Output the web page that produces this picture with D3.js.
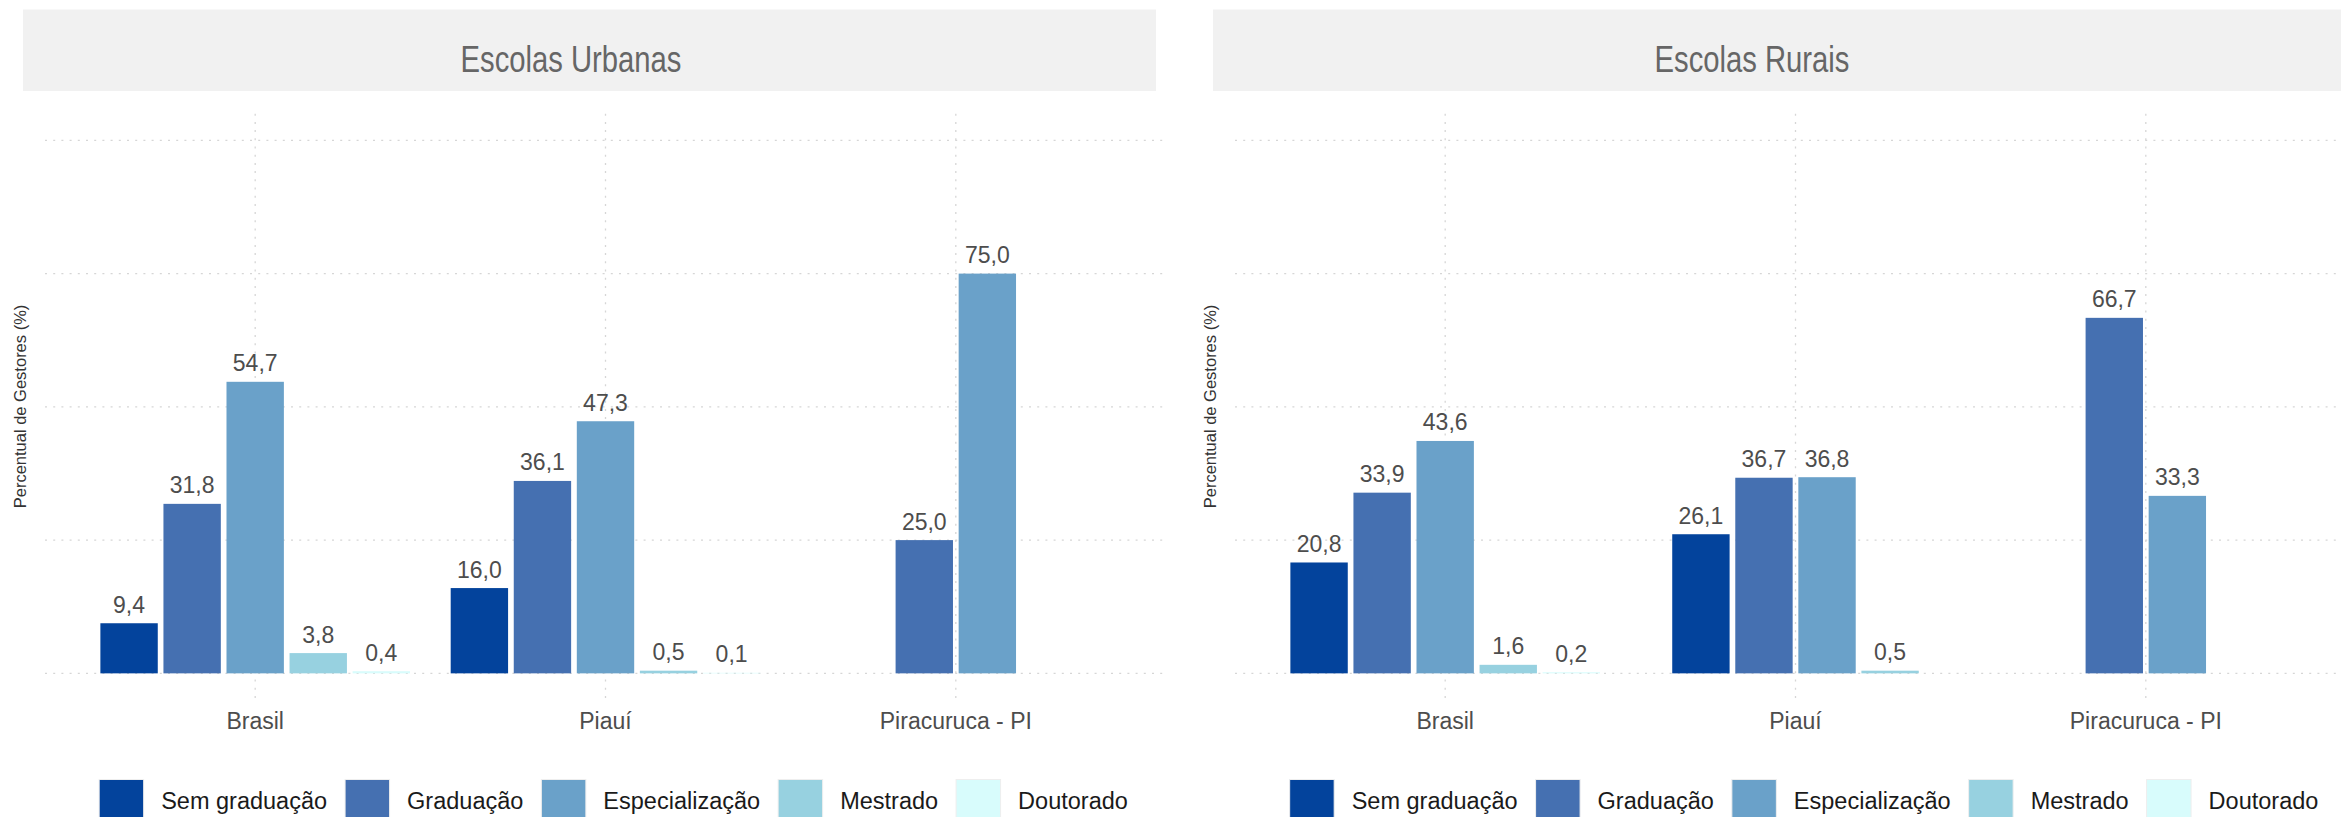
<!DOCTYPE html>
<html>
<head>
<meta charset="utf-8">
<script src="https://cdn.jsdelivr.net/npm/d3@7"></script>
<style>
  html, body { margin: 0; padding: 0; background: #ffffff; }
  svg { display: block; }
</style>
</head>
<body>
<svg id="chart" width="2341" height="817"></svg>
<script>
// ---------------- DATA ----------------
const categories = ["Brasil", "Piauí", "Piracuruca - PI"];
const levels = ["Sem graduação", "Graduação", "Especialização", "Mestrado", "Doutorado"];
const levelColors = ["#03439c", "#4570b1", "#6aa1c9", "#97d1e0", "#d8fcfc"];
const panelTitles = ["Escolas Urbanas", "Escolas Rurais"];
const yTicks = [0, 25, 50, 75, 100];
const yTitle = "Percentual de Gestores (%)";

// Escolas Urbanas (values per category: Brasil, Piauí, Piracuruca - PI)
const urbSemGraduacao   = [9.4, 16.0, null];
const urbGraduacao      = [31.8, 36.1, 25.0];
const urbEspecializacao = [54.7, 47.3, 75.0];
const urbMestrado       = [3.8, 0.5, null];
const urbDoutorado      = [0.4, 0.1, null];

// Escolas Rurais
const rurSemGraduacao   = [20.8, 26.1, null];
const rurGraduacao      = [33.9, 36.7, 66.7];
const rurEspecializacao = [43.6, 36.8, 33.3];
const rurMestrado       = [1.6, 0.5, null];
const rurDoutorado      = [0.2, null, null];

const panelSeries = [
  [urbSemGraduacao, urbGraduacao, urbEspecializacao, urbMestrado, urbDoutorado],
  [rurSemGraduacao, rurGraduacao, rurEspecializacao, rurMestrado, rurDoutorado]
];

// ---------------- LAYOUT ----------------
const svg = d3.select("#chart");
const FONT = "'Liberation Sans', Arial, Helvetica, sans-serif";

const panels = [
  { x0: 45,   x1: 1166, stripX0: 23,   stripX1: 1156, titleX: 571,  legendCx: 613.5 },
  { x0: 1235, x1: 2356, stripX0: 1213, stripX1: 2400, titleX: 1752, legendCx: 1804 }
];

const y = d3.scaleLinear().domain([-5, 105]).range([700, 113.7]);
const fmt = v => v.toFixed(1).replace(".", ",");

panels.forEach((p, pi) => {
  const g = svg.append("g");

  // strip
  g.append("rect")
    .attr("x", p.stripX0).attr("y", 9.5)
    .attr("width", p.stripX1 - p.stripX0).attr("height", 81.5)
    .attr("fill", "#f1f1f1");

  const t = g.append("text")
    .attr("x", p.titleX).attr("y", 72)
    .attr("text-anchor", "middle")
    .attr("font-family", FONT)
    .attr("font-size", 37)
    .attr("fill", "#666666")
    .text(panelTitles[pi]);
  const natural = t.node().getComputedTextLength();
  t.attr("textLength", natural * 0.79).attr("lengthAdjust", "spacingAndGlyphs");

  // x scale
  const x = d3.scaleBand().domain(categories).range([p.x0, p.x1])
    .paddingInner(0).paddingOuter(0.1);
  const slot = x.bandwidth() * 0.18;
  const barW = slot * 0.91;

  // gridlines
  const grid = g.append("g").attr("stroke", "#d6d6d6").attr("stroke-width", 1.3)
    .attr("stroke-dasharray", "2,6.2");
  grid.selectAll("line.h").data(yTicks).join("line")
    .attr("class", "h")
    .attr("x1", p.x0).attr("x2", p.x1)
    .attr("y1", d => y(d)).attr("y2", d => y(d));
  grid.selectAll("line.v").data(categories).join("line")
    .attr("class", "v")
    .attr("x1", d => x(d) + x.bandwidth() / 2).attr("x2", d => x(d) + x.bandwidth() / 2)
    .attr("y1", y(105)).attr("y2", y(-5));

  // bars (dodge, preserve single: present bars centered)
  const series = panelSeries[pi];
  const bars = [];
  categories.forEach((c, ci) => {
    const present = levels.map((l, li) => ({ level: l, li, v: series[li][ci] }))
      .filter(d => d.v !== null && d.v !== undefined);
    const cx = x(c) + x.bandwidth() / 2;
    const start = cx - present.length * slot / 2;
    present.forEach((d, k) => {
      bars.push({ cat: c, level: d.level, li: d.li, v: d.v, cx: start + slot * (k + 0.5) });
    });
  });

  g.selectAll("rect.bar").data(bars).join("rect")
    .attr("class", "bar")
    .attr("x", d => d.cx - barW / 2)
    .attr("width", barW)
    .attr("y", d => y(d.v))
    .attr("height", d => y(0) - y(d.v))
    .attr("fill", d => levelColors[d.li]);

  g.selectAll("text.val").data(bars).join("text")
    .attr("class", "val")
    .attr("x", d => d.cx)
    .attr("y", d => y(d.v) - 10.5)
    .attr("text-anchor", "middle")
    .attr("font-family", FONT)
    .attr("font-size", 23)
    .attr("fill", "#4d4d4d")
    .text(d => fmt(d.v));

  // x axis labels
  const xAxis = d3.axisBottom(x).tickSize(0).tickPadding(0);
  const ax = g.append("g").attr("transform", `translate(0, 712)`).call(xAxis);
  ax.select(".domain").remove();
  ax.selectAll("text")
    .attr("font-family", FONT)
    .attr("font-size", 23)
    .attr("fill", "#4d4d4d")
    .attr("dy", "0.72em");

  // y title
  g.append("text")
    .attr("transform", `translate(${p.x0 - 19}, 406.5) rotate(-90)`)
    .attr("text-anchor", "middle")
    .attr("font-family", FONT)
    .attr("font-size", 16.5)
    .attr("fill", "#333333")
    .text(yTitle);

  // legend
  const leg = g.append("g");
  const keyW = 44.5, gapKT = 17.5, gapTK = 18, legFont = 23.5;
  const items = levels.map((l, li) => ({ l, li }));
  const tmp = leg.append("text").attr("font-family", FONT).attr("font-size", legFont);
  items.forEach(d => { tmp.text(d.l); d.w = tmp.node().getComputedTextLength(); });
  tmp.remove();
  let total = 0;
  items.forEach((d, i) => { d.off = total; total += keyW + gapKT + d.w + (i < items.length - 1 ? gapTK : 0); });
  const lx0 = p.legendCx - total / 2;
  const it = leg.selectAll("g.item").data(items).join("g").attr("class", "item")
    .attr("transform", d => `translate(${lx0 + d.off}, 0)`);
  it.append("rect")
    .attr("x", 0).attr("y", 779.5).attr("width", keyW).attr("height", keyW)
    .attr("fill", d => levelColors[d.li])
    .attr("stroke", "#eeeeee").attr("stroke-width", 1);
  it.append("text")
    .attr("x", keyW + gapKT).attr("y", 809)
    .attr("font-family", FONT).attr("font-size", legFont)
    .attr("fill", "#1a1a1a")
    .text(d => d.l);
});
</script>
</body>
</html>
